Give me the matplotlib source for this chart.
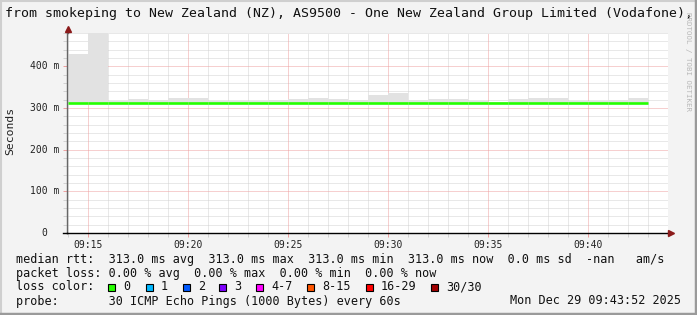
"""smokeping-style latency graph (rrdtool look) rebuilt in matplotlib."""
import numpy as np
import matplotlib; matplotlib.use("Agg"); import matplotlib.pyplot as plt
from matplotlib.ticker import FixedLocator
from matplotlib.patches import Rectangle
from matplotlib.lines import Line2D
from matplotlib.transforms import blended_transform_factory

# bins: start minute past 09:00, 1-minute steps
bin_start = list(range(14, 43))
smoke_max = [0.430, 0.480, 0.316, 0.321, 0.318, 0.323, 0.323, 0.316, 0.316, 0.316,
             0.319, 0.321, 0.324, 0.321, 0.319, 0.331, 0.336, 0.320, 0.321, 0.321,
             0.317, 0.315, 0.321, 0.324, 0.324, 0.317, 0.317, 0.318, 0.324]
median_rtt = [0.313] * len(bin_start)
x_ticks = [15, 20, 25, 30, 35, 40]
x_labels = ["09:15", "09:20", "09:25", "09:30", "09:35", "09:40"]
y_ticks = [0, 0.1, 0.2, 0.3, 0.4]
y_labels = ["0", "100 m", "200 m", "300 m", "400 m"]
loss_names = ["0", "1", "2", "3", "4-7", "8-15", "16-29", "30/30"]
loss_colors = ["#26ff00", "#00b8ff", "#0059ff", "#7e00ff", "#ff00ff", "#ff5500", "#ff0000", "#a00000"]

W, H = 697, 315
MONO = "DejaVu Sans Mono"
RED = "#eea0a0"; MINOR = "#d2d2d2"

fig = plt.figure(figsize=(W / 100, H / 100), dpi=100, facecolor="#f3f3f3")
def fx(x): return x / W
def fy(y): return 1 - y / H
ax = fig.add_axes([fx(67), fy(233), (668 - 67) / W, (233 - 33) / H])
ax.set_facecolor("white")
ax.set_xlim(13.95, 44.0); ax.set_ylim(0, 0.48)

# grid, drawn by hand so the red major lines sit on top of the grey minor ones
dots = (0, (1, 1))
x_minor = [m for m in range(14, 45) if m not in x_ticks]
y_minor = [k / 50 for k in range(1, 25) if k % 5]
for m in x_minor:
    ax.axvline(m, color=MINOR, ls=dots, lw=0.72, zorder=1)
for v in y_minor:
    ax.axhline(v, color=MINOR, ls=dots, lw=0.72, zorder=1)
for m in x_ticks:
    ax.axvline(m, color=RED, ls=dots, lw=0.72, zorder=1.5)
for v in y_ticks[1:]:
    ax.axhline(v, color=RED, ls=dots, lw=0.72, zorder=1.5)

# smoke + median
ax.bar(bin_start, np.array(smoke_max) - np.array(median_rtt), bottom=median_rtt, width=1,
       align="edge", color="#e2e2e2", lw=0, zorder=2)
ax.hlines(median_rtt, bin_start, [b + 1 for b in bin_start], color=loss_colors[0], lw=1.9, zorder=3)
for i in range(len(bin_start) - 1):
    ax.plot([bin_start[i] + 1] * 2, [median_rtt[i], median_rtt[i + 1]], color=loss_colors[0], lw=1.9, zorder=3)

# ticks
ax.xaxis.set_major_locator(FixedLocator(x_ticks)); ax.xaxis.set_minor_locator(FixedLocator(x_minor))
ax.yaxis.set_major_locator(FixedLocator(y_ticks)); ax.yaxis.set_minor_locator(FixedLocator(y_minor))
ax.tick_params(which="major", length=3, width=0.72, color=RED, direction="out")
ax.tick_params(which="minor", length=3, width=0.72, color=MINOR, direction="out")
ax.set_xticklabels(x_labels, fontsize=7, family=MONO, color="#222")
ax.tick_params(axis="x", pad=2)
ax.set_yticklabels([])
ytr = blended_transform_factory(fig.transFigure, ax.transData)
for v, lab in zip(y_ticks, y_labels):
    ax.text(fx(44.5), v, lab, transform=ytr, ha="center", va="center", fontsize=7, family=MONO, color="#222")

for s in ["top", "right"]: ax.spines[s].set_visible(False)
ax.spines["left"].set_color("#666"); ax.spines["left"].set_linewidth(1)
ax.spines["bottom"].set_color("#000"); ax.spines["bottom"].set_linewidth(1)
# axis extensions + arrows
fig.add_artist(Line2D([fx(67.5)] * 2, [fy(33), fy(31)], color="#666", lw=1))
fig.add_artist(Line2D([fx(63), fx(67)], [fy(233)] * 2, color="#000", lw=1))
fig.add_artist(Line2D([fx(668), fx(670)], [fy(233)] * 2, color="#000", lw=1))
fig.add_artist(Line2D([fx(67.5)], [fy(29)], marker="^", ms=5, color="#8b1a1a", lw=0))
fig.add_artist(Line2D([fx(671)], [fy(233)], marker=">", ms=5, color="#8b1a1a", lw=0))

fig.text(fx(10), fy(131), "Seconds", rotation=90, ha="center", va="center",
         fontsize=8.2, family=MONO, color="#222")

# title + watermark
fig.text(fx(5), fy(13), "from smokeping to New Zealand (NZ), AS9500 - One New Zealand Group Limited (Vodafone),",
         ha="left", va="center", fontsize=9.5, family=MONO, color="#111")
fig.text(fx(688), fy(62), "RRDTOOL / TOBI OETIKER", rotation=270, ha="center", va="center",
         fontsize=5.4, family=MONO, color="#b8b8b8")

# legend
LS = 8.5
fig.text(fx(16), fy(259), "median rtt:  313.0 ms avg  313.0 ms max  313.0 ms min  313.0 ms now  0.0 ms sd  -nan   am/s",
         ha="left", va="center", fontsize=LS, family=MONO, color="#111")
fig.text(fx(16), fy(273), "packet loss: 0.00 % avg  0.00 % max  0.00 % min  0.00 % now",
         ha="left", va="center", fontsize=LS, family=MONO, color="#111")
fig.text(fx(16), fy(287), "loss color:", ha="left", va="center", fontsize=LS, family=MONO, color="#111")
box_x = [108, 146, 183, 219, 256, 307, 366, 431]
for bx, name, col in zip(box_x, loss_names, loss_colors):
    fig.add_artist(Rectangle((fx(bx), fy(291)), 7 / W, 7 / H, transform=fig.transFigure,
                             facecolor=col, edgecolor="black", lw=0.8))
    fig.text(fx(bx + 15), fy(287), name, ha="left", va="center", fontsize=LS, family=MONO, color="#111")
fig.text(fx(16), fy(301), "probe:       30 ICMP Echo Pings (1000 Bytes) every 60s",
         ha="left", va="center", fontsize=LS, family=MONO, color="#111")
fig.text(fx(681), fy(301), "Mon Dec 29 09:43:52 2025", ha="right", va="center", fontsize=LS, family=MONO, color="#111")

# 3d border
fig.add_artist(Line2D([0, 1], [fy(0.5)] * 2, color="#cfcfcf", lw=1.5))
fig.add_artist(Line2D([fx(0.5)] * 2, [0, 1], color="#cfcfcf", lw=1.5))
fig.add_artist(Line2D([0, 1], [fy(314)] * 2, color="#9a9a9a", lw=2.5))
fig.add_artist(Line2D([fx(696)] * 2, [0, 1], color="#9a9a9a", lw=2.5))

fig.savefig("out.png", dpi=100, facecolor=fig.get_facecolor())
